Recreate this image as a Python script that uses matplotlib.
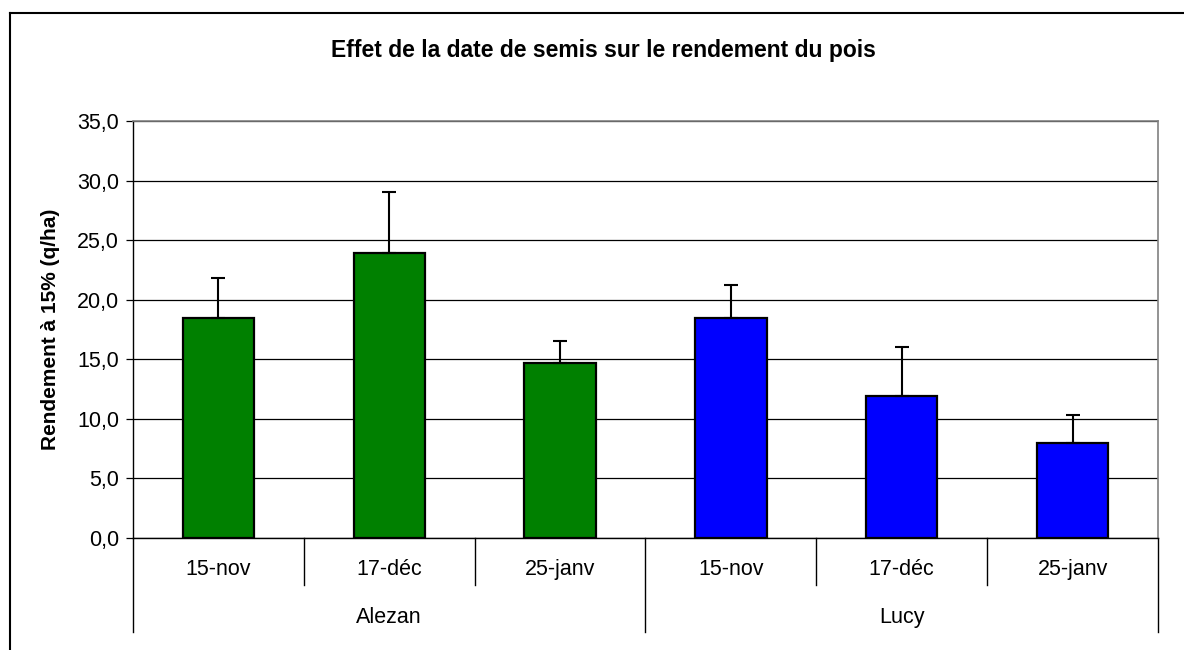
import matplotlib
matplotlib.use("Agg")
import matplotlib.pyplot as plt
from matplotlib.lines import Line2D
import numpy as np

plt.rcParams['font.family'] = ['Liberation Sans', 'DejaVu Sans']

dates = ["15-nov", "17-déc", "25-janv"]
varieties = ["Alezan", "Lucy"]
alezan_vals = [18.5, 23.9, 14.7]
alezan_err = [3.3, 5.1, 1.8]
lucy_vals = [18.5, 11.9, 8.0]
lucy_err = [2.7, 4.1, 2.35]
colors = ["#008000", "#0000FF"]
yticks = [0, 5, 10, 15, 20, 25, 30, 35]
title = "Effet de la date de semis sur le rendement du pois"
ylabel = "Rendement à 15% (q/ha)"

W, H = 1184, 650
fig = plt.figure(figsize=(W / 100, H / 100), dpi=100)
ax = fig.add_axes([133 / W, 1 - 538 / H, (1158 - 133) / W, (538 - 121) / H])

n = len(dates)
series = [(alezan_vals, alezan_err), (lucy_vals, lucy_err)]
bw = 1 / 2.4
for g, (vals, errs) in enumerate(series):
    xs = np.arange(n) + g * n
    ax.bar(xs, vals, width=bw, color=colors[g], edgecolor="black", linewidth=1.6, zorder=3)
    ax.errorbar(xs, vals, yerr=[[0] * n, errs], fmt="none", ecolor="black",
                elinewidth=1.5, capsize=5, capthick=1.5, zorder=4)

ax.set_xlim(-0.5, 2 * n - 0.5)
ax.set_ylim(0, 35)
ax.set_yticks(yticks)
ax.set_yticklabels([f"{v:.1f}".replace(".", ",") for v in yticks], fontsize=15.5)
ax.yaxis.grid(True, color="black", linewidth=0.9, zorder=0)
ax.set_axisbelow(True)
ax.tick_params(axis="y", direction="out", length=5, width=0.9, pad=5)
ax.set_xticks([])
for s in ["top", "right"]:
    ax.spines[s].set_color("#808080")
    ax.spines[s].set_linewidth(1.2)
ax.spines["left"].set_color("black")
ax.spines["bottom"].set_color("black")
ax.spines["left"].set_linewidth(1.0)
ax.spines["bottom"].set_linewidth(1.0)

tr = ax.get_xaxis_transform()
ax_h = 538 - 121
short = -47 / ax_h
long_ = -94 / ax_h
for k in range(2 * n + 1):
    x = k - 0.5
    y1 = long_ if k % n == 0 else short
    ax.add_line(Line2D([x, x], [0, y1], transform=tr, color="black", linewidth=1.0, clip_on=False))

for g in range(2):
    for i, d in enumerate(dates):
        ax.text(g * n + i, -37 / ax_h, d, transform=tr, ha="center", va="baseline", fontsize=15.5)
    ax.text(g * n + (n - 1) / 2, -85 / ax_h, varieties[g], transform=tr, ha="center", va="baseline", fontsize=15.5)

ax.set_ylabel(ylabel, fontsize=15, fontweight="bold", labelpad=12)
fig.text(603 / W, 1 - 50 / H, title, ha="center", va="center", fontsize=16.5, fontweight="bold")

# outer chart frame
fig.add_artist(Line2D([10 / W, 1.0], [1 - 13 / H, 1 - 13 / H], transform=fig.transFigure, color="black", linewidth=1.5))
fig.add_artist(Line2D([10 / W, 10 / W], [1 - 13 / H, 0], transform=fig.transFigure, color="black", linewidth=1.5))

fig.savefig("out.png", dpi=100)
